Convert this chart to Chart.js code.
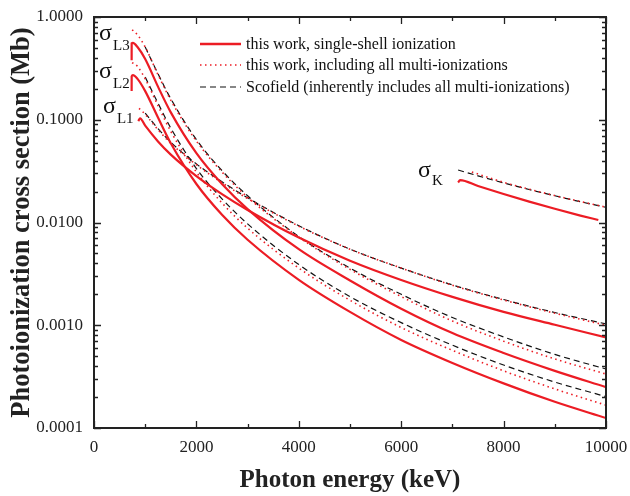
<!DOCTYPE html>
<html>
<head>
<meta charset="utf-8">
<title>Photoionization cross sections</title>
<script src="https://cdn.jsdelivr.net/npm/chart.js@4.4.0/dist/chart.umd.min.js"></script>
<style>
  html, body { margin: 0; padding: 0; background: #fff; }
  #wrap { width: 630px; height: 496px; }
</style>
</head>
<body>
<div id="wrap"><canvas id="xsec" width="630" height="496"></canvas></div>
<script>
// Photon energies (keV) and cross sections (Mb) per subshell
const l3Energy = [735, 736, 760, 850, 1000, 1250, 1500, 2000, 2500, 3000, 4000, 5000, 6000, 7000, 8000, 9000, 10000];
const l3Single = [0.38, 0.555, 0.56, 0.51, 0.39, 0.21, 0.118, 0.0473, 0.0237, 0.0135, 0.0055, 0.00273, 0.00145, 0.00084, 0.000537, 0.00036, 0.00025];
const l3MultiEnergy = [745, 760, 850, 1000, 1250, 1500, 2000, 2500, 3000, 4000, 5000, 6000, 7000, 8000, 9000, 10000];
const l3Multi = [0.75, 0.74, 0.67, 0.51, 0.275, 0.155, 0.062, 0.031, 0.0176, 0.0072, 0.0035, 0.0019, 0.0011, 0.0007, 0.00047, 0.000335];

const l2Energy = [735, 736, 760, 850, 1000, 1250, 1500, 2000, 2500, 3000, 4000, 5000, 6000, 7000, 8000, 9000, 10000];
const l2Single = [0.19, 0.265, 0.272, 0.25, 0.19, 0.105, 0.059, 0.0237, 0.0119, 0.0068, 0.00277, 0.00135, 0.00072, 0.00043, 0.000272, 0.00018, 0.000125];
const l2MultiEnergy = [745, 850, 1000, 1250, 1500, 2000, 2500, 3000, 4000, 5000, 6000, 7000, 8000, 9000, 10000];
const l2Multi = [0.36, 0.33, 0.25, 0.137, 0.077, 0.031, 0.0155, 0.0088, 0.0036, 0.00175, 0.00095, 0.00057, 0.00036, 0.00024, 0.000167];

const l1Energy = [865, 900, 1000, 1250, 1500, 2000, 2500, 3000, 4000, 5000, 6000, 7000, 8000, 9000, 10000];
const l1Single = [0.097, 0.103, 0.0875, 0.0615, 0.0458, 0.0283, 0.0189, 0.01325, 0.00714, 0.00425, 0.00276, 0.00189, 0.00135, 0.00101, 0.00076];
const l1MultiEnergy = [880, 1000, 1250, 1500, 2000, 2500, 3000, 4000, 5000, 6000, 7000, 8000, 9000, 10000];
const l1Multi = [0.129, 0.113, 0.08, 0.059, 0.0365, 0.0244, 0.0171, 0.0092, 0.0055, 0.0036, 0.00245, 0.00176, 0.00131, 0.00100];

// Scofield tables start at 1 keV
const scofieldEnergy = [1000, 1250, 1500, 2000, 2500, 3000, 4000, 5000, 6000, 7000, 8000, 9000, 10000];
const l3Scofield = [0.51, 0.28, 0.16, 0.064, 0.032, 0.0182, 0.0073, 0.0036, 0.0020, 0.00119, 0.00077, 0.00052, 0.000375];
const l2Scofield = [0.26, 0.145, 0.083, 0.0335, 0.017, 0.0097, 0.0039, 0.0019, 0.00106, 0.00064, 0.00041, 0.00028, 0.000202];
const l1Scofield = [0.116, 0.082, 0.0605, 0.0372, 0.0249, 0.0174, 0.0093, 0.0055, 0.0036, 0.00247, 0.00178, 0.00133, 0.00103];

const kEnergy = [7112, 7150, 7500, 8000, 8500, 9000, 9500, 9850];
const kSingle = [0.0245, 0.0259, 0.02266, 0.01891, 0.01596, 0.0136, 0.01168, 0.01057];
const kMultiEnergy = [7380, 8000, 8500, 9000, 9500, 10000];
const kMulti = [0.031, 0.0246, 0.0211, 0.0183, 0.016, 0.0141];
const kScofieldEnergy = [7112, 7500, 8000, 8500, 9000, 9500, 10000];
const kScofield = [0.0324, 0.02845, 0.02429, 0.02094, 0.0182, 0.01593, 0.01405];

const xTickValues = [0, 2000, 4000, 6000, 8000, 10000];
const yTickValues = [0.0001, 0.001, 0.01, 0.1, 1];
const yTickLabels = ['0.0001', '0.0010', '0.0100', '0.1000', '1.0000'];

const legendLabels = [
  'this work, single-shell ionization',
  'this work, including all multi-ionizations',
  'Scofield (inherently includes all multi-ionizations)',
];

// subshell labels, placed at (energy, cross section) of the sigma glyph
const shellLabels = [
  { sub: 'L3', e: 100, v: 0.60 },
  { sub: 'L2', e: 100, v: 0.255 },
  { sub: 'L1', e: 175, v: 0.116 },
  { sub: 'K', e: 6330, v: 0.0277 },
];

const RED = '#ec1c24';
const SERIF = "'Liberation Serif', 'Times New Roman', serif";

function pts(xs, ys) {
  return xs.map((x, i) => ({ x: x, y: ys[i] }));
}

const solidStyle = { borderColor: RED, borderWidth: 2.2, borderDash: [] };
const dottedStyle = { borderColor: RED, borderWidth: 1.6, borderDash: [1.5, 3.5] };
const dashedStyle = { borderColor: '#111', borderWidth: 1.2, borderDash: [6, 4] };

const series = [
  [l3Energy, l3Single, solidStyle],
  [l2Energy, l2Single, solidStyle],
  [l1Energy, l1Single, solidStyle],
  [kEnergy, kSingle, solidStyle],
  [l3MultiEnergy, l3Multi, dottedStyle],
  [l2MultiEnergy, l2Multi, dottedStyle],
  [l1MultiEnergy, l1Multi, dottedStyle],
  [kMultiEnergy, kMulti, dottedStyle],
  [scofieldEnergy, l3Scofield, dashedStyle],
  [scofieldEnergy, l2Scofield, dashedStyle],
  [scofieldEnergy, l1Scofield, dashedStyle],
  [kScofieldEnergy, kScofield, dashedStyle],
];

const datasets = series.map(([xs, ys, style]) => ({
  data: pts(xs, ys),
  borderColor: style.borderColor,
  borderWidth: style.borderWidth,
  borderDash: style.borderDash,
  pointRadius: 0,
  cubicInterpolationMode: 'monotone',
  fill: false,
}));

// inward tick marks on all four sides plus the frame
const framePlugin = {
  id: 'frame',
  afterDraw(chart) {
    const { ctx, chartArea: a, scales } = chart;
    const xs = scales.x, ys = scales.y;
    ctx.save();
    ctx.strokeStyle = '#222';
    ctx.lineWidth = 1.3;
    ctx.beginPath();
    for (let e = 0; e <= 10000; e += 1000) {
      const px = Math.round(xs.getPixelForValue(e)) + 0.5;
      const len = e % 2000 === 0 ? 7 : 4;
      ctx.moveTo(px, a.bottom); ctx.lineTo(px, a.bottom - len);
      ctx.moveTo(px, a.top); ctx.lineTo(px, a.top + len);
    }
    for (let d = -4; d <= 0; d++) {
      for (let m = 1; m <= 9; m++) {
        const v = m * Math.pow(10, d);
        if (v > 1) break;
        const py = Math.round(ys.getPixelForValue(v)) + 0.5;
        const len = m === 1 ? 7 : 4;
        ctx.moveTo(a.left, py); ctx.lineTo(a.left + len, py);
        ctx.moveTo(a.right, py); ctx.lineTo(a.right - len, py);
      }
    }
    ctx.stroke();
    ctx.lineWidth = 2;
    ctx.strokeRect(a.left, a.top, a.right - a.left, a.bottom - a.top);
    ctx.restore();
  },
};

// legend in the upper right of the plot and the subshell labels
const annotatePlugin = {
  id: 'annotate',
  afterDraw(chart) {
    const { ctx, chartArea: a, scales } = chart;
    ctx.save();
    const styles = [solidStyle, dottedStyle, dashedStyle];
    const rowY = [a.top + 27, a.top + 48, a.top + 70];
    ctx.font = '16px ' + SERIF;
    ctx.textBaseline = 'middle';
    ctx.fillStyle = '#111';
    legendLabels.forEach((label, i) => {
      const s = styles[i];
      ctx.strokeStyle = s.borderColor;
      ctx.lineWidth = i === 0 ? 2.4 : s.borderWidth;
      ctx.setLineDash(s.borderDash);
      ctx.beginPath();
      ctx.moveTo(a.left + 106, rowY[i]);
      ctx.lineTo(a.left + 147, rowY[i]);
      ctx.stroke();
      ctx.setLineDash([]);
      ctx.fillText(label, a.left + 152, rowY[i] + 1);
    });

    ctx.textBaseline = 'alphabetic';
    shellLabels.forEach(l => {
      const x = scales.x.getPixelForValue(l.e);
      const y = scales.y.getPixelForValue(l.v);
      ctx.font = '24px ' + SERIF;
      ctx.fillText('\u03c3', x, y);
      const w = ctx.measureText('\u03c3').width;
      ctx.font = '15px ' + SERIF;
      ctx.fillText(l.sub, x + w + 1, y + (l.sub === 'K' ? 8 : 10));
    });
    ctx.restore();
  },
};

new Chart(document.getElementById('xsec'), {
  type: 'line',
  data: { datasets: datasets },
  options: {
    responsive: false,
    animation: false,
    layout: { padding: { top: 17, right: 24, left: 0, bottom: 0 } },
    plugins: { legend: { display: false }, tooltip: { enabled: false } },
    scales: {
      x: {
        type: 'linear',
        min: 0,
        max: 10000,
        afterBuildTicks: s => { s.ticks = xTickValues.map(v => ({ value: v })); },
        afterFit: s => { s.height = 68; s.paddingLeft = 0; s.paddingRight = 0; },
        ticks: { autoSkip: false, maxRotation: 0, padding: 9, color: '#222', font: { family: SERIF, size: 17 }, callback: v => String(v) },
        grid: { display: false, drawTicks: false },
        border: { display: false },
        title: { display: true, text: 'Photon energy (keV)', color: '#222', padding: { top: 0, bottom: 0 }, font: { family: SERIF, size: 25, weight: 'bold' } },
      },
      y: {
        type: 'logarithmic',
        min: 0.0001,
        max: 1,
        afterBuildTicks: s => { s.ticks = yTickValues.map(v => ({ value: v })); },
        afterFit: s => { s.width = 94; s.paddingTop = 0; s.paddingBottom = 0; },
        ticks: { autoSkip: false, padding: 11, color: '#222', font: { family: SERIF, size: 17 }, callback: v => yTickLabels[yTickValues.indexOf(v)] },
        grid: { display: false, drawTicks: false },
        border: { display: false },
        title: { display: true, text: 'Photoionization cross section (Mb)', color: '#222', padding: { top: 6, bottom: 0 }, font: { family: SERIF, size: 26.5, weight: 'bold' } },
      },
    },
  },
  plugins: [framePlugin, annotatePlugin],
});
</script>
</body>
</html>
